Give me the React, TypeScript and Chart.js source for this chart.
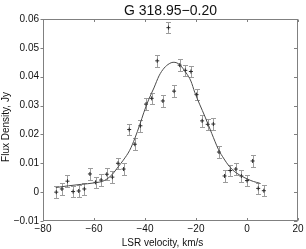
import React, { useEffect, useRef } from "react";
import { Chart, registerables } from "chart.js";

Chart.register(...registerables);

const titleText = "G 318.95\u22120.20";
const xTitle = "LSR velocity, km/s";
const yTitle = "Flux Density, Jy";

const pointX = [
  -74.8, -72.6, -70.4, -68.2, -66.0, -63.8, -61.6, -59.4, -57.2, -55.0,
  -52.8, -50.6, -48.4, -46.2, -44.0, -41.8, -39.6, -37.4, -35.2, -33.0,
  -30.8, -28.6, -26.4, -24.2, -22.0, -19.8, -17.6, -15.4, -13.2, -11.0,
  -8.8, -6.6, -4.4, -2.2, 0.0, 2.2, 4.4, 6.6,
];
const pointY = [
  0.0, 0.0011, 0.0038, 0.0002, 0.0004, 0.0011, 0.0063, 0.0034, 0.0042, 0.0062,
  0.0052, 0.01, 0.008, 0.0217, 0.0166, 0.023, 0.0305, 0.0325, 0.0455, 0.0316,
  0.057, 0.035, 0.044, 0.0422, 0.0418, 0.0338, 0.0247, 0.0235, 0.0236, 0.0139,
  0.0056, 0.0075, 0.008, 0.0056, 0.004, 0.0108, 0.0013, 0.0005,
];
const pointErr = [
  0.002, 0.002, 0.002, 0.002, 0.002, 0.002, 0.002, 0.002, 0.002, 0.002,
  0.002, 0.002, 0.002, 0.002, 0.002, 0.002, 0.002, 0.002, 0.002, 0.002,
  0.002, 0.002, 0.002, 0.002, 0.002, 0.002, 0.002, 0.002, 0.002, 0.002,
  0.002, 0.002, 0.002, 0.002, 0.002, 0.002, 0.002, 0.002,
];

const fitX = [
  -75.0, -70.0, -65.0, -60.0, -56.0, -53.0, -50.5, -48.5, -46.0, -44.0,
  -42.0, -40.5, -38.5, -36.5, -34.5, -32.5, -30.5, -29.0, -27.5, -26.0,
  -24.0, -22.0, -20.5, -18.6, -16.4, -13.8, -11.2, -9.0, -7.0, -5.0,
  -3.0, 0.0, 2.5, 5.0,
];
const fitY = [
  0.0016, 0.0022, 0.0027, 0.0032, 0.004, 0.006, 0.0088, 0.0111, 0.0145, 0.0186,
  0.0235, 0.0275, 0.0322, 0.0361, 0.0403, 0.043, 0.0445, 0.045, 0.0448, 0.0438,
  0.0415, 0.0385, 0.0346, 0.0305, 0.026, 0.0203, 0.0148, 0.0115, 0.009, 0.0072,
  0.006, 0.0046, 0.0037, 0.0031,
];

const xTicks = [-80, -60, -40, -20, 0, 20];
const yTicks = [-0.01, 0, 0.01, 0.02, 0.03, 0.04, 0.05, 0.06];

const FONT = "'Liberation Sans', Arial, sans-serif";

const fmtY = (v: number) =>
  Math.abs(v) < 1e-9 ? "0" : (v < 0 ? "\u2212" : "") + Math.abs(v).toFixed(2);
const fmtX = (v: number) => (v < 0 ? "\u2212" + Math.abs(v) : String(v));

const decorPlugin = {
  id: "decor",
  beforeDatasetsDraw(chart: any) {
    const { ctx, chartArea: a, scales } = chart;
    const x = scales.x;
    const y = scales.y;
    ctx.save();
    ctx.beginPath();
    ctx.rect(a.left, a.top, a.right - a.left, a.bottom - a.top);
    ctx.clip();
    ctx.strokeStyle = "#9c9c9c";
    ctx.lineWidth = 1;
    for (let i = 0; i < pointX.length; i++) {
      const px = Math.round(x.getPixelForValue(pointX[i])) + 0.5;
      const t = Math.round(y.getPixelForValue(pointY[i] + pointErr[i])) + 0.5;
      const b = Math.round(y.getPixelForValue(pointY[i] - pointErr[i])) + 0.5;
      ctx.beginPath();
      ctx.moveTo(px, t);
      ctx.lineTo(px, b);
      ctx.moveTo(px - 2.5, t);
      ctx.lineTo(px + 2.5, t);
      ctx.moveTo(px - 2.5, b);
      ctx.lineTo(px + 2.5, b);
      ctx.stroke();
    }
    ctx.restore();
  },
  afterDraw(chart: any) {
    const { ctx, chartArea: a, scales } = chart;
    const x = scales.x;
    const y = scales.y;
    const L = Math.round(a.left) + 0.5;
    const R = Math.round(a.right) - 0.5;
    const T = Math.round(a.top) + 0.5;
    const B = Math.round(a.bottom) - 0.5;
    ctx.save();
    ctx.strokeStyle = "#808080";
    ctx.lineWidth = 1;
    ctx.strokeRect(L, T, R - L, B - T);
    ctx.beginPath();
    for (const v of xTicks) {
      const px = Math.round(x.getPixelForValue(v)) + 0.5;
      ctx.moveTo(px, B);
      ctx.lineTo(px, B - 2.5);
      ctx.moveTo(px, T);
      ctx.lineTo(px, T + 2.5);
    }
    for (const v of yTicks) {
      const py = Math.round(y.getPixelForValue(v)) + 0.5;
      ctx.moveTo(L, py);
      ctx.lineTo(L - 3, py);
      ctx.moveTo(R, py);
      ctx.lineTo(R - 3.5, py);
    }
    ctx.stroke();

    ctx.fillStyle = "#111";
    ctx.textAlign = "center";
    ctx.textBaseline = "middle";
    ctx.font = `14px ${FONT}`;
    ctx.fillText(titleText, (a.left + a.right) / 2, 11);
    ctx.font = `10px ${FONT}`;
    ctx.fillText(xTitle, 162.5, 243);
    ctx.translate(6.5, 127);
    ctx.rotate(-Math.PI / 2);
    ctx.fillText(yTitle, 0, 0);
    ctx.restore();
  },
};

export default function App() {
  const ref = useRef<HTMLCanvasElement | null>(null);
  useEffect(() => {
    document.body.style.margin = "0";
    const canvas = ref.current;
    if (!canvas) return;
    const chart = new Chart(canvas, {
      type: "scatter",
      data: {
        datasets: [
          {
            label: "fit",
            data: fitX.map((v, i) => ({ x: v, y: fitY[i] })),
            showLine: true,
            borderColor: "#4a4a4a",
            borderWidth: 1,
            pointRadius: 0,
            cubicInterpolationMode: "monotone",
            fill: false,
          } as any,
          {
            label: "data",
            data: pointX.map((v, i) => ({ x: v, y: pointY[i] })),
            showLine: false,
            pointStyle: "cross",
            pointRadius: 2,
            borderColor: "#2a2a2a",
            backgroundColor: "#2a2a2a",
            borderWidth: 1,
          } as any,
        ],
      },
      options: {
        animation: false,
        responsive: false,
        devicePixelRatio: 1,
        layout: { padding: { top: 19, right: 8, bottom: 0, left: 0 } },
        plugins: {
          legend: { display: false },
          title: { display: false },
          tooltip: { enabled: false },
        },
        events: [],
        scales: {
          x: {
            type: "linear",
            min: -80,
            max: 20,
            afterFit: (s: any) => {
              s.height = 28;
            },
            afterBuildTicks: (s: any) => {
              s.ticks = xTicks.map((v) => ({ value: v }));
            },
            grid: { display: false, drawTicks: false },
            border: { display: false },
            ticks: {
              autoSkip: false,
              maxRotation: 0,
              padding: 2,
              color: "#111",
              font: { family: FONT, size: 10 },
              callback: (v: any) => fmtX(Number(v)),
            },
          },
          y: {
            type: "linear",
            min: -0.01,
            max: 0.06,
            afterFit: (s: any) => {
              s.width = 43;
            },
            afterBuildTicks: (s: any) => {
              s.ticks = yTicks.map((v) => ({ value: v }));
            },
            grid: { display: false, drawTicks: false },
            border: { display: false },
            ticks: {
              autoSkip: false,
              padding: 4,
              color: "#111",
              font: { family: FONT, size: 10 },
              callback: (v: any) => fmtY(Number(v)),
            },
          },
        },
      },
      plugins: [decorPlugin],
    });
    return () => chart.destroy();
  }, []);
  return (
    <div style={{ width: 306, height: 249 }}>
      <canvas ref={ref} width={306} height={249} style={{ display: "block" }} />
    </div>
  );
}
